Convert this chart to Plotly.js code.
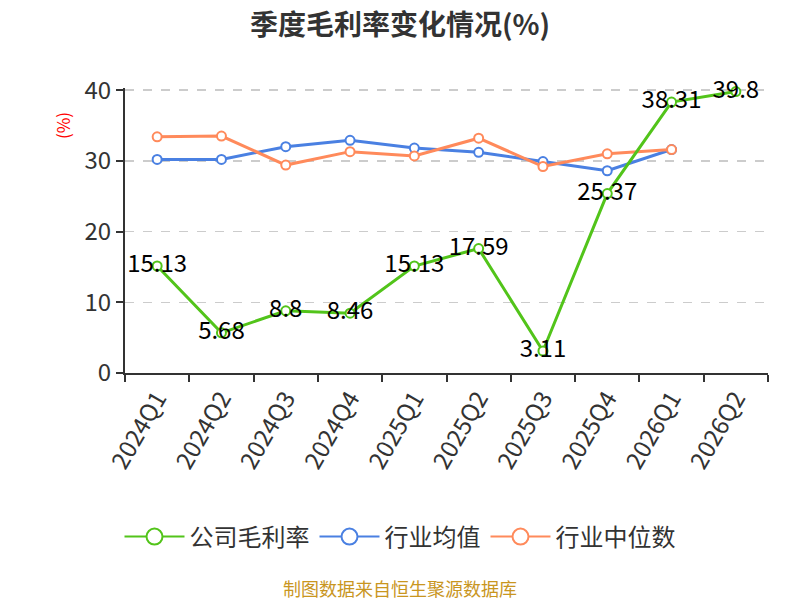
<!DOCTYPE html>
<html>
<head>
<meta charset="utf-8">
<script src="https://cdn.plot.ly/plotly-3.0.1.min.js"></script>
<style>
  body { margin: 0; background: #fff; }
  #chart { width: 800px; height: 600px; }
</style>
</head>
<body>
<div id="chart"></div>
<script>
const quarters = ['2024Q1', '2024Q2', '2024Q3', '2024Q4', '2025Q1', '2025Q2', '2025Q3', '2025Q4', '2026Q1', '2026Q2'];
const company_margin = [15.13, 5.68, 8.8, 8.46, 15.13, 17.59, 3.11, 25.37, 38.31, 39.8];
const industry_avg = [30.2, 30.2, 32.0, 32.9, 31.8, 31.2, 29.9, 28.6, 31.6, null];
const industry_median = [33.4, 33.5, 29.4, 31.3, 30.7, 33.2, 29.2, 31.0, 31.6, null];
const series_names = ['公司毛利率', '行业均值', '行业中位数'];
const y_ticks = [0, 10, 20, 30, 40];

const FONT = '"Noto Sans CJK SC", "Noto Sans", sans-serif';
const GREEN = '#52c41a';
const BLUE = '#4a80e2';
const ORANGE = '#ff8a5b';

function line_trace(values, color, with_labels) {
  let trace = {
    type: 'scatter',
    mode: with_labels ? 'lines+markers+text' : 'lines+markers',
    x: quarters,
    y: values,
    showlegend: false,
    cliponaxis: false,
    line: {color: color, width: 3},
    marker: {size: 9, color: '#fff', line: {color: color, width: 2}},
  };
  if (with_labels) {
    trace.text = values.map(v => String(v));
    trace.textposition = 'middle center';
    trace.textfont = {family: FONT, size: 24, color: '#000'};
  }
  return trace;
}

// legend-only entries, so the legend symbols can be drawn bigger
function legend_trace(name, color) {
  return {
    type: 'scatter',
    mode: 'lines+markers',
    name: name,
    x: [null],
    y: [null],
    line: {color: color, width: 2},
    marker: {size: 16, color: '#fff', line: {color: color, width: 2}},
  };
}

const traces = [
  line_trace(industry_avg, BLUE, false),
  line_trace(industry_median, ORANGE, false),
  line_trace(company_margin, GREEN, true),
  legend_trace(series_names[0], GREEN),
  legend_trace(series_names[1], BLUE),
  legend_trace(series_names[2], ORANGE),
];

// a little headroom above the last tick, so plotly keeps its gridline
const y_max = y_ticks[y_ticks.length - 1] + 0.3;

const layout = {
  width: 800,
  height: 600,
  paper_bgcolor: '#fff',
  plot_bgcolor: '#fff',
  font: {family: FONT, color: '#333'},
  margin: {l: 125, r: 32, t: 88, b: 227, pad: 0},
  title: {
    text: '<b>季度毛利率变化情况(%)</b>',
    font: {family: FONT, size: 28, color: '#333'},
    x: 0.5,
    xanchor: 'center',
    y: 0.958,
    yanchor: 'middle',
  },
  showlegend: true,
  legend: {
    orientation: 'h',
    xref: 'container',
    x: 0.5,
    xanchor: 'center',
    yref: 'container',
    y: 0.105,
    yanchor: 'middle',
    font: {family: FONT, size: 24, color: '#333'},
    traceorder: 'normal',
    itemwidth: 60,
  },
  xaxis: {
    type: 'category',
    range: [-0.5, 9.5],
    tickson: 'boundaries',
    ticks: 'outside',
    ticklen: 7,
    tickwidth: 2,
    tickcolor: '#333',
    showline: true,
    linecolor: '#333',
    linewidth: 2,
    showgrid: false,
    zeroline: false,
    tickangle: -60,
    tickfont: {family: FONT, size: 24, color: '#333'},
    fixedrange: true,
  },
  yaxis: {
    range: [0, y_max],
    tickvals: y_ticks,
    ticks: 'outside',
    ticklen: 7,
    tickwidth: 2,
    tickcolor: '#333',
    showline: true,
    linecolor: '#333',
    linewidth: 2,
    showgrid: true,
    gridcolor: '#cccccc',
    gridwidth: 1.5,
    griddash: 'dash',
    zeroline: false,
    tickfont: {family: FONT, size: 24, color: '#333'},
    fixedrange: true,
  },
  annotations: [
    {
      text: '(%)',
      xref: 'paper', yref: 'paper',
      x: -0.098, y: 0.87,
      xanchor: 'center', yanchor: 'middle',
      textangle: -90,
      showarrow: false,
      font: {family: FONT, size: 17, color: '#ff0000'},
    },
    {
      text: '制图数据来自恒生聚源数据库',
      xref: 'paper', yref: 'paper',
      x: 0.428, y: -0.755,
      xanchor: 'center', yanchor: 'middle',
      showarrow: false,
      font: {family: FONT, size: 18, color: '#c9961f'},
    },
  ],
};

Plotly.newPlot('chart', traces, layout, {displayModeBar: false, staticPlot: true});
</script>
</body>
</html>
